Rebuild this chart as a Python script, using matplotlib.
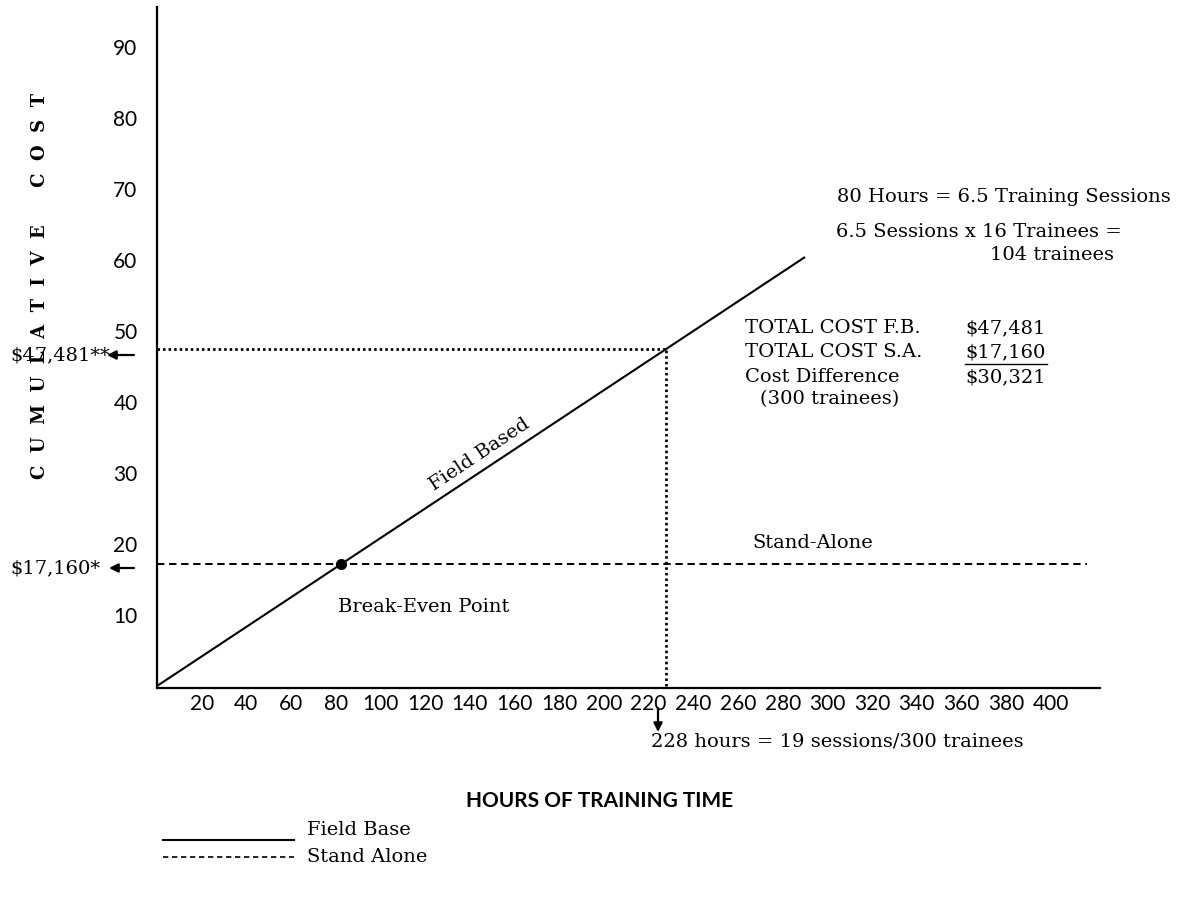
import matplotlib
matplotlib.use("Agg")
import matplotlib.pyplot as plt
from matplotlib.lines import Line2D

# ---- data (hours of training, cost in $ thousands) ----
fb_hours = [0, 228, 290]
fb_cost = [0, 47.481, 60.4]
sa_hours = [0, 416]
sa_cost = [17.160, 17.160]
total_hours = 228
total_fb_cost = 47.481
breakeven_hours = [82.4]
breakeven_cost = [17.160]
x_ticks = [20, 40, 60, 80, 100, 120, 140, 160, 180, 200, 220, 240, 260, 280, 300, 320, 340, 360, 380, 400]
y_ticks = [10, 20, 30, 40, 50, 60, 70, 80, 90]

W, H = 1196, 902
fig = plt.figure(figsize=(W / 100, H / 100), dpi=100)
ax = fig.add_axes([157 / W, (H - 688) / H, 943 / W, 681 / H])
ax.set_xlim(0, 422)
ax.set_ylim(-0.28, 95.6)

SERIF = "DejaVu Serif"
TICKF = "Lato"

for s in ["top", "right"]:
    ax.spines[s].set_visible(False)
for s in ["left", "bottom"]:
    ax.spines[s].set_linewidth(1.6)
ax.set_xticks(x_ticks)
ax.set_yticks(y_ticks)
ax.tick_params(length=0)
ax.tick_params(axis="y", pad=14)
ax.tick_params(axis="x", pad=4)
for lab in ax.get_xticklabels() + ax.get_yticklabels():
    lab.set_fontfamily(TICKF)
    lab.set_fontsize(15)

# lines
ax.plot(fb_hours, fb_cost, color="black", lw=1.5, solid_capstyle="butt")
ax.plot(sa_hours, sa_cost, color="black", lw=1.4, linestyle=(0, (3.8, 2.4)))
ax.plot([0, total_hours], [total_fb_cost, total_fb_cost], color="black", lw=2.0,
        linestyle=(0, (0.9, 1.1)))
ax.plot([total_hours, total_hours], [0, total_fb_cost], color="black", lw=2.0,
        linestyle=(0, (0.9, 1.1)))
ax.plot(breakeven_hours, breakeven_cost, "o", color="black", ms=7)


def ftext(x, y, s, **kw):
    kw.setdefault("va", "center")
    kw.setdefault("family", SERIF)
    kw.setdefault("fontsize", 14)
    return fig.text(x / W, 1 - y / H, s, **kw)


def farrow(x0, y0, x1, y1):
    ax.annotate("", xy=(x1 / W, 1 - y1 / H), xytext=(x0 / W, 1 - y0 / H),
                xycoords="figure fraction", textcoords="figure fraction",
                arrowprops=dict(arrowstyle="-|>", color="black", lw=1.6,
                                mutation_scale=13, shrinkA=0, shrinkB=0))


# annotations in chart area
ftext(480, 455, "Field Based", ha="center", rotation=33.7, rotation_mode="anchor")
ftext(338, 607, "Break-Even Point", ha="left")
ftext(752, 543, "Stand-Alone", ha="left")

ftext(837, 197, "80 Hours = 6.5 Training Sessions", ha="left")
ftext(836, 232, "6.5 Sessions x 16 Trainees =", ha="left")
ftext(990, 255, "104 trainees", ha="left")

ftext(745, 328, "TOTAL COST F.B.", ha="left")
ftext(965, 328, "$47,481", ha="left")
ftext(745, 352, "TOTAL COST S.A.", ha="left")
ftext(965, 352, "$17,160", ha="left")
fig.add_artist(Line2D([965 / W, 1047 / W], [1 - 364 / H, 1 - 364 / H], color="black", lw=1.0))
ftext(745, 377, "Cost Difference", ha="left")
ftext(965, 377, "$30,321", ha="left")
ftext(760, 399, "(300 trainees)", ha="left")

# left value markers
ftext(110, 355, "$47,481**", ha="right")
farrow(134, 355, 107, 355)
ftext(100, 568, "$17,160*", ha="right")
farrow(134, 568, 109, 568)

# 228 hours marker
farrow(658, 708, 658, 732)
ftext(651, 742, "228 hours = 19 sessions/300 trainees", ha="left")

# axis titles
ftext(600, 801, "HOURS OF TRAINING TIME", ha="center", family=TICKF, fontweight="bold", fontsize=15)
ftext(40, 286, "C  U  M  U  L  A  T  I  V  E      C  O  S  T", ha="center",
      rotation=90, fontweight="bold", fontsize=13)

# legend
fig.add_artist(Line2D([163 / W, 294 / W], [1 - 840 / H] * 2, color="black", lw=1.5))
ftext(307, 830, "Field Base", ha="left")
fig.add_artist(Line2D([163 / W, 294 / W], [1 - 857 / H] * 2, color="black", lw=1.2,
                      linestyle=(0, (3.2, 2.2))))
ftext(307, 857, "Stand Alone", ha="left")

fig.savefig("out.png", dpi=100)
